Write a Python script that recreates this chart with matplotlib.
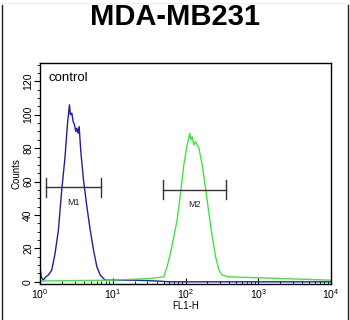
import matplotlib
matplotlib.use('Agg')
import matplotlib.pyplot as plt
from matplotlib.lines import Line2D
import numpy as np

plt.rcParams['font.family'] = ['Liberation Sans', 'DejaVu Sans']

# control (blue) histogram, FL1-H vs counts
ctrl_x = [1.00, 1.04, 1.11, 1.20, 1.30, 1.45, 1.61, 1.79, 1.99, 2.21, 2.38, 2.54,
          2.62, 2.74, 2.85, 2.98, 3.10, 3.21, 3.33, 3.45, 3.64, 3.96, 4.41, 4.90,
          5.44, 6.05, 6.73, 7.89, 10.0, 20.0, 40.0, 60.0, 10000.0]
ctrl_y = [9, 3, 1, 3, 4, 7, 17, 31, 55, 75, 94, 106,
          100, 101, 96, 94, 90, 92, 89, 93, 78, 61, 45, 31,
          19, 9, 4, 1, 1, 1, 0.5, 0, 0]

# sample (green) histogram
samp_x = [1.00, 10.0, 32.9, 50.1, 55.8, 62.1, 69.0, 76.7, 85.3, 94.8, 105.4, 114.8,
          118.0, 123.6, 130.0, 137.4, 152.8, 169.8, 188.8, 209.9, 233.3, 259.4,
          288.4, 320.6, 396.3, 2000.0, 10000.0]
samp_y = [0.5, 1, 2, 3, 9, 17, 27, 37, 53, 70, 82, 89,
          85, 87, 82, 84, 80, 70, 56, 41, 27, 15,
          7, 4, 3, 2, 1]

# gate markers: (label, start, end, level)
gate_names = ['M1', 'M2']
gate_start = [1.21, 48.7]
gate_end = [6.94, 364.0]
gate_level = [56.6, 55.0]

fig = plt.figure(figsize=(3.5, 3.2), dpi=100)
ax = fig.add_axes([0.1143, 0.1125, 0.8314, 0.6906])

ax.plot(ctrl_x, ctrl_y, color='#20209a', linewidth=1.0)
ax.plot(samp_x, samp_y, color='#44e244', linewidth=1.0)

for name, x0, x1, lev in zip(gate_names, gate_start, gate_end, gate_level):
    ax.plot([x0, x1], [lev, lev], color='#333333', linewidth=1.0)
    ax.plot([x0, x0], [lev - 5.7, lev + 5.7], color='#333333', linewidth=1.0)
    ax.plot([x1, x1], [lev - 5.7, lev + 5.7], color='#333333', linewidth=1.0)
    xm = np.sqrt(x0 * x1)
    ax.text(xm, lev - 9, name, fontsize=6.5, ha='center', va='center', color='#222222')

ax.set_xscale('log')
ax.set_xlim(1, 10000)
ax.set_ylim(-1.3, 131)
ax.set_yticks([0, 20, 40, 60, 80, 100, 120])
ax.set_yticks(np.arange(0, 131, 5), minor=True)
ax.tick_params(axis='y', which='major', length=4, labelsize=7.5, direction='out',
               labelrotation=90, pad=1)
ax.tick_params(axis='y', which='minor', length=2, direction='out')
ax.tick_params(axis='x', which='major', length=4, labelsize=7.5, direction='in', pad=2)
ax.tick_params(axis='x', which='minor', length=2.5, direction='in')
for lab in ax.get_yticklabels():
    lab.set_va('center')

ax.set_xlabel('FL1-H', fontsize=7, labelpad=0)
ax.set_ylabel('Counts', fontsize=7, labelpad=1)
for s in ax.spines.values():
    s.set_linewidth(1.0)

ax.text(0.03, 0.93, 'control', transform=ax.transAxes, fontsize=9.5, ha='left', va='center')

fig.text(0.5, 0.947, 'MDA-MB231', fontsize=21, fontweight='bold', ha='center', va='center')

# outer frame lines
fig.add_artist(Line2D([0.005, 0.005], [0.0, 0.985], color='#222222', linewidth=1.0))
fig.add_artist(Line2D([0.995, 0.995], [0.0, 0.985], color='#222222', linewidth=1.0))
fig.add_artist(Line2D([0.005, 0.995], [0.99, 0.99], color='#eeeeee', linewidth=0.8))

fig.savefig('out.png', dpi=100)
